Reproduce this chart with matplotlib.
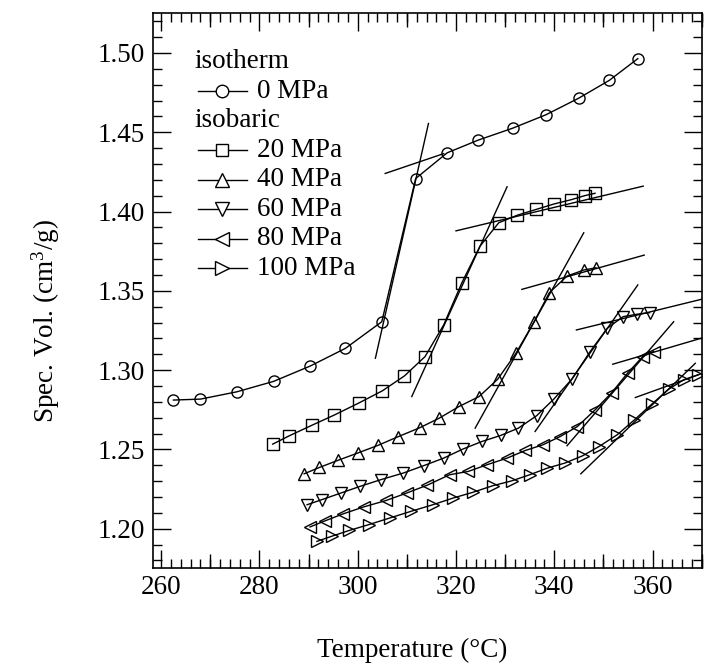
import matplotlib
matplotlib.use("Agg")
import matplotlib.pyplot as plt
from matplotlib.ticker import MultipleLocator

plt.rcParams['font.family'] = ['Liberation Serif', 'DejaVu Serif']
plt.rcParams['mathtext.fontset'] = 'custom'
plt.rcParams['mathtext.rm'] = 'Liberation Serif'
plt.rcParams['mathtext.it'] = 'Liberation Serif:italic'

# isotherm, 0 MPa
t0 = [262.5, 268.0, 275.4, 282.9, 290.3, 297.5, 304.9, 311.8, 318.2, 324.5,
      331.5, 338.3, 345.0, 351.2, 357.0]
v0 = [1.2811, 1.2817, 1.2863, 1.2929, 1.3025, 1.3137, 1.3305, 1.4208, 1.4370,
      1.4450, 1.4525, 1.4610, 1.4715, 1.4827, 1.4964]

# isobaric runs
t20 = [282.7, 286.1, 290.6, 295.2, 300.2, 305.0, 309.5, 313.7, 317.5, 321.2,
       324.9, 328.7, 332.5, 336.3, 339.9, 343.5, 346.2, 348.3]
v20 = [1.2533, 1.2586, 1.2651, 1.2716, 1.2792, 1.2869, 1.2963, 1.3085, 1.3285,
       1.3551, 1.3782, 1.3929, 1.3977, 1.4013, 1.4047, 1.4075, 1.4100, 1.4115]

t40 = [289.1, 292.2, 295.9, 300.0, 304.1, 308.3, 312.6, 316.6, 320.6, 324.7,
       328.5, 332.2, 335.9, 339.0, 342.6, 346.0, 348.5]
v40 = [1.2346, 1.2386, 1.2430, 1.2477, 1.2525, 1.2581, 1.2636, 1.2697, 1.2770,
       1.2833, 1.2943, 1.3106, 1.3305, 1.3488, 1.3593, 1.3631, 1.3645]

t60 = [289.7, 292.7, 296.6, 300.4, 304.7, 309.3, 313.4, 317.5, 321.4, 325.3,
       329.1, 332.7, 336.4, 339.9, 343.6, 347.3, 350.8, 354.0, 356.8, 359.4]
v60 = [1.2151, 1.2183, 1.2225, 1.2266, 1.2309, 1.2351, 1.2397, 1.2445, 1.2502,
       1.2550, 1.2588, 1.2634, 1.2712, 1.2817, 1.2943, 1.3117, 1.3264, 1.3337,
       1.3352, 1.3362]

t80 = [290.3, 293.4, 297.0, 301.2, 305.8, 310.0, 314.2, 318.7, 322.5, 326.3,
       330.4, 334.1, 337.7, 341.2, 344.7, 348.3, 351.7, 355.0, 358.0, 360.2]
v80 = [1.2011, 1.2050, 1.2093, 1.2137, 1.2178, 1.2225, 1.2275, 1.2340, 1.2361,
       1.2403, 1.2445, 1.2493, 1.2529, 1.2581, 1.2644, 1.2749, 1.2858, 1.2984,
       1.3085, 1.3117]

t100 = [291.7, 294.7, 298.3, 302.2, 306.5, 310.8, 315.3, 319.4, 323.4, 327.5,
        331.4, 335.0, 338.6, 342.2, 345.8, 349.1, 352.8, 356.3, 359.9, 363.3,
        366.3, 369.2]
v100 = [1.1920, 1.1952, 1.1989, 1.2025, 1.2067, 1.2109, 1.2151, 1.2193, 1.2229,
        1.2271, 1.2302, 1.2340, 1.2382, 1.2414, 1.2460, 1.2518, 1.2592, 1.2686,
        1.2787, 1.2880, 1.2938, 1.2970]

# tangent lines (start T, start V, end T, end V)
tangents = [
    (303.6, 1.3075, 314.4, 1.4555), (305.6, 1.4240, 317.5, 1.4365),
    (311.0, 1.2833, 330.4, 1.4156), (320.0, 1.3878, 358.1, 1.4160),
    (323.9, 1.2634, 346.0, 1.3866), (333.4, 1.3509, 358.3, 1.3725),
    (336.1, 1.2613, 357.0, 1.3537), (344.5, 1.3253, 372.0, 1.3462),
    (342.6, 1.2523, 364.3, 1.3305), (351.9, 1.3037, 372.0, 1.3220),
    (345.4, 1.2346, 368.7, 1.3043), (356.5, 1.2827, 372.0, 1.3000),
]

series = [(t0, v0, 'o'), (t20, v20, 's'), (t40, v40, '^'),
          (t60, v60, 'v'), (t80, v80, '<'), (t100, v100, '>')]
legend_rows = [("isotherm", None), ("0 MPa", 'o'), ("isobaric", None),
               ("20 MPa", 's'), ("40 MPa", '^'), ("60 MPa", 'v'),
               ("80 MPa", '<'), ("100 MPa", '>')]
msize = {'o': 8.0, 's': 8.0, '^': 9.0, 'v': 9.0, '<': 9.0, '>': 9.0}
fs = 19.5

fig = plt.figure(figsize=(7.07, 6.64), dpi=100)
ax = fig.add_axes([0.2168, 0.1441, 0.7757, 0.8359])

for t, v, m in series:
    ax.plot(t, v, color='black', lw=1.0, marker=m, ms=msize[m],
            mfc='none', mec='black', mew=1.0)

for a, b, c, d in tangents:
    ax.plot([a, c], [b, d], color='black', lw=1.0)

ax.set_xlim(258.4, 370.0)
ax.set_ylim(1.175, 1.525)
ax.xaxis.set_major_locator(MultipleLocator(20))
ax.xaxis.set_minor_locator(MultipleLocator(2))
ax.yaxis.set_major_locator(MultipleLocator(0.05))
ax.yaxis.set_minor_locator(MultipleLocator(0.01))
ax.yaxis.set_major_formatter(lambda v, p: f"{v:.2f}")
ax.tick_params(which='both', direction='in', top=True, right=True,
               width=1.0, labelsize=fs, colors='black')
ax.tick_params(which='major', length=13, pad=6)
ax.tick_params(which='minor', length=6.5)
ax.tick_params(axis='x', which='major', pad=5)

# mid ticks every 10 degrees
for side in ['bottom', 'top']:
    sec = ax.secondary_xaxis(side)
    sec.set_xticks([270, 290, 310, 330, 350, 370])
    sec.tick_params(direction='in', length=10, width=1.0,
                    labelbottom=False, labeltop=False)
    sec.spines[side].set_visible(False)

for s in ax.spines.values():
    s.set_linewidth(1.2)

ax.set_xlabel("Temperature (°C)", fontsize=fs)
ax.xaxis.set_label_coords(0.472, -0.125)
ax.set_ylabel("Spec. Vol. (cm$^3$/g)", fontsize=fs)
ax.yaxis.set_label_coords(-0.166, 0.4456)

# legend drawn by hand in axes fraction
y0, dy = 0.9128, 0.0532
for i, (lab, m) in enumerate(legend_rows):
    y = y0 - i * dy
    if m is None:
        ax.text(0.0748, y, lab, transform=ax.transAxes, fontsize=fs,
                va='center', ha='left')
    else:
        ax.plot([0.081, 0.170], [y, y], transform=ax.transAxes, color='black',
                lw=1.0)
        ax.plot([0.125], [y], transform=ax.transAxes, marker=m, ms=msize[m] + 1,
                mfc='white', mec='black', mew=1.0, color='black')
        ax.text(0.1886, y, lab, transform=ax.transAxes, fontsize=fs,
                va='center', ha='left')

fig.savefig("out.png", dpi=100)
